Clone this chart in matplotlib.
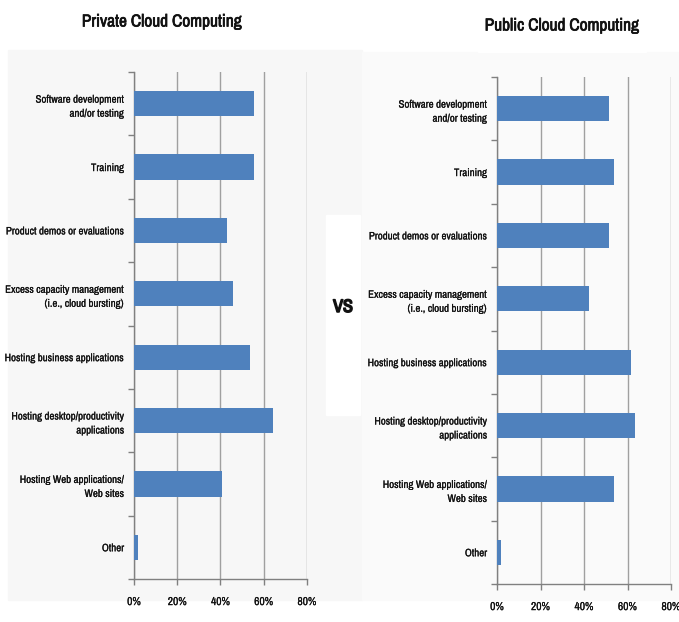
import matplotlib
matplotlib.use("Agg")
import matplotlib.pyplot as plt
from matplotlib.patches import Rectangle
from matplotlib import font_manager
import matplotlib.patheffects as pe

categories = [
    "Software development\nand/or testing",
    "Training",
    "Product demos or evaluations",
    "Excess capacity management\n(i.e., cloud bursting)",
    "Hosting business applications",
    "Hosting desktop/productivity\napplications",
    "Hosting Web applications/\nWeb sites",
    "Other",
]
private_values = [55.5, 55.5, 43, 46, 53.5, 64.5, 40.5, 2]
public_values = [51.5, 54, 51.5, 42.5, 61.5, 63.5, 54, 2]
x_ticks = [0, 20, 40, 60, 80]
x_tick_labels = ["0%", "20%", "40%", "60%", "80%"]
titles = ["Private Cloud Computing", "Public Cloud Computing"]

names = {f.name for f in font_manager.fontManager.ttflist}
narrow = "Archivo Narrow" in names
fam = ["Archivo Narrow", "DejaVu Sans"] if narrow else ["Liberation Sans", "DejaVu Sans"]
plt.rcParams["font.family"] = fam
lab_fs = 7.8 if narrow else 7.0
title_fs = 12.5 if narrow else 11.5
thin = [pe.withStroke(linewidth=0.12, foreground="#111111")]
thick = [pe.withStroke(linewidth=0.5, foreground="#111111")]

W, H = 679, 622
fig = plt.figure(figsize=(W / 100, H / 100), dpi=100, facecolor="white")

def fx(px):
    return px / W

def fy(py):
    return 1 - py / H

# panel backgrounds
fig.patches.append(Rectangle((fx(8), fy(600)), fx(354), (600 - 50) / H,
                             transform=fig.transFigure, color="#f7f7f7", zorder=-3))
fig.patches.append(Rectangle((fx(362), fy(600)), fx(317), (600 - 52) / H,
                             transform=fig.transFigure, color="#fafafa", zorder=-3))
# title boxes / vs box
fig.patches.append(Rectangle((fx(50), fy(48)), fx(212), 40 / H,
                             transform=fig.transFigure, color="white", zorder=-2))
fig.patches.append(Rectangle((fx(478), fy(52)), fx(168), 42 / H,
                             transform=fig.transFigure, color="white", zorder=-2))
fig.patches.append(Rectangle((fx(326), fy(415)), fx(34), 200 / H,
                             transform=fig.transFigure, color="white", zorder=-2))

axes_specs = [
    (134, 307, 72, 579, private_values),
    (497, 671, 77, 584, public_values),
]

n = len(categories)
pos = list(range(n))
for (x0, x1, y0, y1, vals) in axes_specs:
    ax = fig.add_axes([fx(x0), fy(y1), (x1 - x0) / W, (y1 - y0) / H], zorder=1)
    ax.set_facecolor("none")
    ax.barh(pos, vals, height=0.4, color="#4f81bd", zorder=3)
    ax.set_xlim(0, 80)
    ax.set_ylim(n - 0.5, -0.5)
    ax.set_xticks(x_ticks)
    ax.set_xticklabels(x_tick_labels, fontsize=lab_fs + 0.5)
    ax.set_yticks(pos)
    ax.set_yticklabels(categories, fontsize=lab_fs, linespacing=1.5)
    for t in ax.get_xticklabels() + ax.get_yticklabels():
        t.set_path_effects(thin)
        t.set_color("#111111")
    ax.set_yticks([p - 0.5 for p in range(n + 1)], minor=True)
    ax.tick_params(axis="y", which="major", length=0, pad=7)
    ax.tick_params(axis="y", which="minor", length=4, color="#808080", width=1)
    ax.tick_params(axis="x", which="major", length=4, color="#808080", width=1, pad=9)
    ax.grid(axis="x", color="#a0a0a0", linewidth=1, zorder=0)
    for s in ["top", "right"]:
        ax.spines[s].set_visible(False)
    for s in ["left", "bottom"]:
        ax.spines[s].set_color("#808080")
        ax.spines[s].set_linewidth(1)
    ax.set_axisbelow(True)

fig.text(fx(162), fy(22), titles[0], ha="center", va="center", fontsize=title_fs,
         color="#111111", path_effects=thick, zorder=5)
fig.text(fx(562), fy(26), titles[1], ha="center", va="center", fontsize=title_fs,
         color="#111111", path_effects=thick, zorder=5)
fig.text(fx(343), fy(307), "VS", ha="center", va="center", fontsize=13,
         color="#111111", path_effects=[pe.withStroke(linewidth=1.1, foreground="#111111")],
         zorder=5)

fig.savefig("out.png", dpi=100, facecolor="white")
